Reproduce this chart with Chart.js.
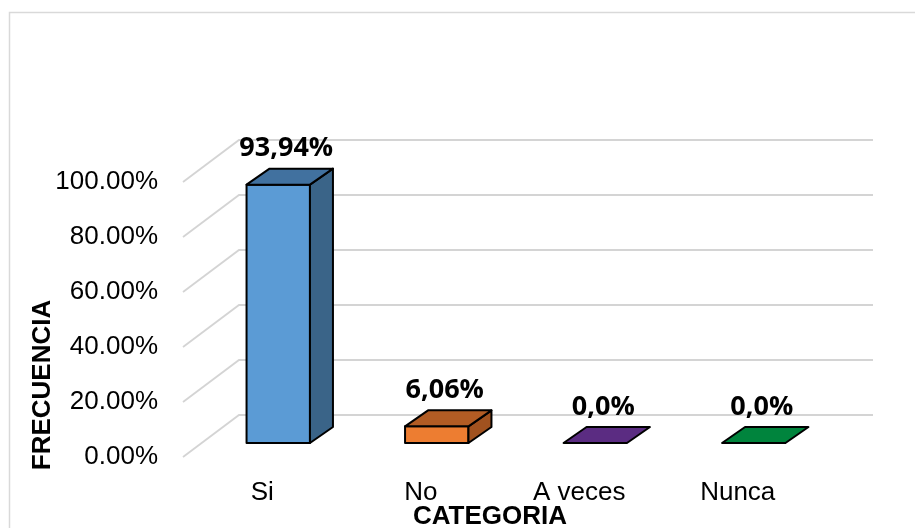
<!DOCTYPE html>
<html>
<head>
<meta charset="utf-8">
<script src="https://cdn.jsdelivr.net/npm/chart.js@4.4.1/dist/chart.umd.min.js"></script>
<style>
    html, body { margin: 0; padding: 0; background: #fff; }
    #wrap { width: 915px; height: 528px; position: relative; }
</style>
</head>
<body>
<div id="wrap"><canvas id="grafico"></canvas></div>
<script>
    "use strict";

    // datos
    var categorias = ["Si", "No", "A veces", "Nunca"];
    var porcentajes = [0.9394, 0.0606, 0, 0];
    var etiquetas = ["93,94%", "6,06%", "0,0%", "0,0%"];
    var ticksY = [0, 0.2, 0.4, 0.6, 0.8, 1];

    // colores de las caras
    var colorFrente = ["#5B9BD5", "#ED7D31", "#5B2C82", "#00843D"];
    var colorArriba = ["#41719F", "#B25C24", "#5B2C82", "#00843D"];
    var colorLado = ["#3A6488", "#A1521F", "#4A2368", "#006B31"];

    var pared = { dx: 56, dy: -42 };
    var caja = { offX: 16, offY: -14, dx: 23, dy: -16 };
    var fuente = "'Liberation Sans', Arial, sans-serif";

    function poly(ctx, pts, fill) {
        ctx.beginPath();
        ctx.moveTo(pts[0][0], pts[0][1]);
        for (var i = 1; i < pts.length; i++) ctx.lineTo(pts[i][0], pts[i][1]);
        ctx.closePath();
        ctx.fillStyle = fill;
        ctx.fill();
        ctx.stroke();
    }

    var plugin3d = {
        id: "barras3d",
        beforeDraw: function (chart) {
            var ctx = chart.ctx;
            ctx.save();
            ctx.fillStyle = "#fff";
            ctx.fillRect(0, 0, chart.width, chart.height);
            ctx.strokeStyle = "#D9D9D9";
            ctx.lineWidth = 1.5;
            ctx.strokeRect(9.5, 12.5, chart.width + 20, chart.height + 20);
            ctx.restore();
        },
        beforeDatasetsDraw: function (chart) {
            var ctx = chart.ctx, y = chart.scales.y, a = chart.chartArea;
            ctx.save();
            ctx.strokeStyle = "#D4D4D4";
            ctx.lineWidth = 1.8;
            ticksY.forEach(function (v) {
                var py = y.getPixelForValue(v);
                ctx.beginPath();
                ctx.moveTo(a.left, py);
                ctx.lineTo(a.left + pared.dx, py + pared.dy);
                ctx.lineTo(a.right + pared.dx, py + pared.dy);
                ctx.stroke();
            });
            ctx.restore();
        },
        afterDatasetsDraw: function (chart) {
            var ctx = chart.ctx;
            var meta = chart.getDatasetMeta(0);
            ctx.save();
            ctx.lineWidth = 2;
            ctx.strokeStyle = "#000";
            ctx.lineJoin = "round";
            meta.data.forEach(function (el, i) {
                var w = el.width;
                var x1 = el.x - w / 2 + caja.offX, x2 = el.x + w / 2 + caja.offX;
                var t = el.y + caja.offY, b = el.base + caja.offY;
                if (b - t > 0.5) {
                    poly(ctx, [[x1, t], [x2, t], [x2, b], [x1, b]], colorFrente[i]);
                    poly(ctx, [[x2, t], [x2 + caja.dx, t + caja.dy], [x2 + caja.dx, b + caja.dy], [x2, b]], colorLado[i]);
                }
                poly(ctx, [[x1, t], [x2, t], [x2 + caja.dx, t + caja.dy], [x1 + caja.dx, t + caja.dy]], colorArriba[i]);

                ctx.fillStyle = "#000";
                ctx.font = "bold 27px 'Open Sans', sans-serif";
                ctx.textAlign = "center";
                ctx.textBaseline = "middle";
                ctx.fillText(etiquetas[i], (x1 + x2) / 2 + 8, t + caja.dy - 20);
            });

            // titulos de ejes
            ctx.font = "bold 26px " + fuente;
            ctx.textAlign = "center";
            ctx.textBaseline = "middle";
            ctx.fillText("CATEGORIA", 490, 517);
            ctx.translate(43, 385);
            ctx.rotate(-Math.PI / 2);
            ctx.fillText("FRECUENCIA", 0, 0);
            ctx.restore();
        }
    };

    new Chart(document.getElementById("grafico"), {
        type: "bar",
        data: {
            labels: categorias,
            datasets: [{
                data: porcentajes,
                backgroundColor: "rgba(0,0,0,0)",
                borderWidth: 0,
                barPercentage: 0.4,
                categoryPercentage: 1
            }]
        },
        options: {
            responsive: true,
            maintainAspectRatio: false,
            animation: false,
            layout: { padding: { top: 182, right: 98, left: 0, bottom: 0 } },
            plugins: { legend: { display: false }, tooltip: { enabled: false } },
            scales: {
                x: {
                    grid: { display: false },
                    border: { display: false },
                    ticks: { color: "#000", padding: 12, font: { family: fuente, size: 26 } },
                    afterFit: function (s) { s.height = 71; }
                },
                y: {
                    min: 0,
                    max: 1,
                    grid: { display: false },
                    border: { display: false },
                    afterFit: function (s) { s.width = 183; },
                    ticks: {
                        stepSize: 0.2,
                        color: "#000",
                        padding: 17,
                        font: { family: fuente, size: 26 },
                        callback: function (v) { return (v * 100).toFixed(2) + "%"; }
                    }
                }
            }
        },
        plugins: [plugin3d]
    });
</script>
</body>
</html>
